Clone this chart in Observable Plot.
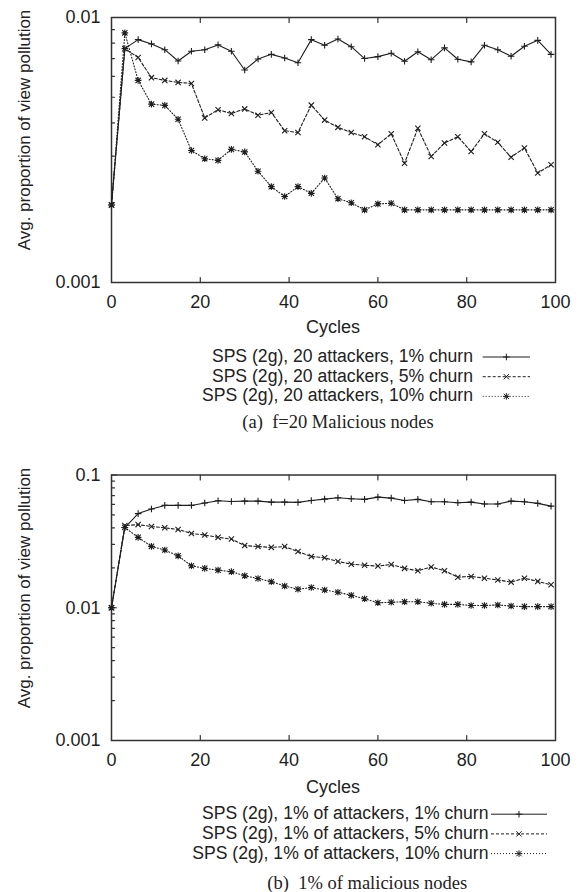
<!DOCTYPE html>
<html><head><meta charset="utf-8">
<script src="https://cdn.jsdelivr.net/npm/d3@7"></script>
<script src="https://cdn.jsdelivr.net/npm/@observablehq/plot@0.6"></script>
<style>
body{margin:0;background:#fff;}
#root{position:relative;width:588px;height:892px;overflow:hidden;font-family:"Liberation Sans",Arial,sans-serif;color:#222;}
.abs{position:absolute;white-space:nowrap;line-height:0.9;}
#root svg{position:absolute;left:0;}
</style></head><body><div id="root"></div>
<script>
// ---------- data ----------
const cycles = [0,3,6,9,12,15,18,21,24,27,30,33,36,39,42,45,48,51,54,57,60,63,66,69,72,75,78,81,84,87,90,93,96,99];
const xTicks = [0,20,40,60,80,100];

// (a) f=20 malicious nodes
const aLabels = ["SPS (2g), 20 attackers, 1% churn","SPS (2g), 20 attackers, 5% churn","SPS (2g), 20 attackers, 10% churn"];
const aChurn1 = [0.00196,0.00763,0.00825,0.00795,0.00756,0.00685,0.00746,0.00756,0.00788,0.00746,0.00634,0.00697,0.00726,0.00703,0.00675,0.00825,0.00786,0.0083,0.00776,0.0070,0.00712,0.00733,0.00684,0.00743,0.00693,0.00768,0.00696,0.0068,0.00786,0.00756,0.00714,0.00779,0.0082,0.00726];
const aChurn5 = [0.00196,0.00763,0.00706,0.00593,0.00579,0.00569,0.00564,0.00418,0.00449,0.00434,0.00452,0.00428,0.00438,0.00374,0.00368,0.00467,0.0041,0.00385,0.00368,0.00355,0.00331,0.00364,0.00282,0.00382,0.00299,0.00336,0.00355,0.00312,0.00364,0.00338,0.00297,0.00322,0.00259,0.00278];
const aChurn10 = [0.00196,0.00875,0.00579,0.00471,0.00466,0.00413,0.00315,0.00293,0.00289,0.00318,0.00311,0.00263,0.0023,0.00211,0.0023,0.00217,0.00248,0.00207,0.0020,0.00188,0.00198,0.00199,0.00188,0.00188,0.00188,0.00188,0.00188,0.00188,0.00188,0.00188,0.00188,0.00188,0.00188,0.00188];
const aYTicks = [0.001,0.01];
const aCaption = "(a)\u2002f=20 Malicious nodes";

// (b) 1% of malicious nodes
const bLabels = ["SPS (2g), 1% of attackers, 1% churn","SPS (2g), 1% of attackers, 5% churn","SPS (2g), 1% of attackers, 10% churn"];
const bChurn1 = [0.01,0.0402,0.0512,0.0555,0.059,0.059,0.059,0.0615,0.064,0.0632,0.0636,0.0636,0.0625,0.0625,0.0622,0.0643,0.0658,0.0674,0.0662,0.0655,0.0681,0.067,0.0643,0.0655,0.0629,0.0629,0.0618,0.0625,0.0604,0.0604,0.0636,0.0629,0.0611,0.0583];
const bChurn5 = [0.01,0.0416,0.0423,0.0409,0.040,0.0389,0.0363,0.0353,0.0339,0.0329,0.0294,0.0289,0.0285,0.0289,0.0265,0.0243,0.0238,0.0223,0.0213,0.0209,0.0206,0.0212,0.0198,0.019,0.0203,0.019,0.017,0.0172,0.0167,0.0162,0.0156,0.0167,0.0158,0.0149];
const bChurn10 = [0.01,0.0402,0.0339,0.029,0.0272,0.0246,0.0207,0.0198,0.0192,0.0187,0.0174,0.0166,0.0157,0.0146,0.0138,0.0142,0.0136,0.0131,0.0124,0.0117,0.0109,0.011,0.0111,0.0111,0.0108,0.0106,0.0106,0.0104,0.0104,0.0105,0.0103,0.0102,0.0102,0.0102];
const bYTicks = [0.001,0.01,0.1];
const bCaption = "(b)\u20021% of malicious nodes";

const yTitle = "Avg. proportion of view pollution";
const xTitle = "Cycles";

// ---------- styles ----------
const INK = "#1e1e1e";
const S = 3.3;
const symPlus = {draw(c){c.moveTo(-S,0);c.lineTo(S,0);c.moveTo(0,-S);c.lineTo(0,S);}};
const T = S*0.8;
const symTimes = {draw(c){c.moveTo(-T,-T);c.lineTo(T,T);c.moveTo(-T,T);c.lineTo(T,-T);}};
const symStar = {draw(c){symPlus.draw(c);symTimes.draw(c);}};
const seriesStyle = [
  {symbol: symPlus, dash: null},
  {symbol: symTimes, dash: "3,2"},
  {symbol: symStar, dash: "1,2"}
];
const tickShape = {draw(ctx, l){ctx.moveTo(0,0);ctx.lineTo(0,-l);}};

const root = document.getElementById("root");

function addText(txt, x, y, anchor, opts = {}) {
  const d = document.createElement("div");
  d.className = "abs";
  d.textContent = txt;
  d.style.left = x + "px";
  d.style.top = y + "px";
  d.style.fontSize = (opts.size || 18) + "px";
  if (opts.family) d.style.fontFamily = opts.family;
  const tx = anchor === "middle" ? "-50%" : anchor === "end" ? "-100%" : "0";
  d.style.transform = opts.rotate ? `translate(-50%,-50%) rotate(${opts.rotate}deg)` : `translate(${tx},-50%)`;
  root.appendChild(d);
}

function chart({top, height, marginTop, marginBottom, yDomain, yTicks, series}) {
  const rows = [];
  series.forEach((vals, s) => vals.forEach((v, i) => rows.push({s, x: cycles[i], y: v})));
  const minor = [];
  for (let e = Math.log10(yDomain[0]); e < Math.log10(yDomain[1]) - 1e-9; e++) {
    for (let k = 2; k <= 9; k++) minor.push(Math.pow(10, e) * k);
  }
  const marks = [
    Plot.frame({stroke: "#333", strokeWidth: 1.5}),
    Plot.axisX({ticks: xTicks, tickSize: 0, tickPadding: 12.5, tickFormat: d => String(d), label: null, fontSize: 18, fill: INK}),
    Plot.axisY({ticks: yTicks, tickSize: 0, tickPadding: 11, tickFormat: d => String(d), label: null, fontSize: 18, fill: INK}),
    Plot.vector(xTicks.slice(1, -1), {x: d => d, y: yDomain[0], length: 5, rotate: 0, anchor: "start", shape: tickShape, stroke: "#333", strokeWidth: 1.2}),
    Plot.vector(xTicks.slice(1, -1), {x: d => d, y: yDomain[1], length: 5, rotate: 180, anchor: "start", shape: tickShape, stroke: "#333", strokeWidth: 1.2}),
    Plot.vector(yTicks, {x: 0, y: d => d, length: 5, rotate: 90, anchor: "start", shape: tickShape, stroke: "#333", strokeWidth: 1.2}),
    Plot.vector(minor, {x: 0, y: d => d, length: 3, rotate: 90, anchor: "start", shape: tickShape, stroke: "#333", strokeWidth: 1.2})
  ];
  series.forEach((vals, s) => {
    const data = rows.filter(r => r.s === s);
    const st = seriesStyle[s];
    marks.push(Plot.line(data, {x: "x", y: "y", stroke: INK, strokeWidth: 1.1, strokeDasharray: st.dash}));
    marks.push(Plot.dot(data, {x: "x", y: "y", symbol: st.symbol, r: 3, stroke: INK, strokeWidth: 1.1, fill: "none"}));
  });
  const svg = Plot.plot({
    width: 588, height, marginTop, marginBottom, marginLeft: 111, marginRight: 33,
    style: {fontFamily: '"Liberation Sans", Arial, sans-serif', fontSize: "18px", color: INK, background: "transparent"},
    x: {domain: [0, 100]},
    y: {type: "log", domain: yDomain},
    marks
  });
  svg.style.top = top + "px";
  root.appendChild(svg);
}

function legend(svgSel, labels, rowsY, textRight, lineX1, lineX2) {
  labels.forEach((lab, i) => {
    addText(lab, textRight, rowsY[i], "end", {size: 17.6});
    const st = seriesStyle[i];
    svgSel.append("line").attr("x1", lineX1).attr("x2", lineX2).attr("y1", rowsY[i]).attr("y2", rowsY[i])
      .attr("stroke", INK).attr("stroke-width", 1).attr("stroke-dasharray", st.dash);
    svgSel.append("path").attr("d", d3.symbol().type(st.symbol)())
      .attr("transform", `translate(${(lineX1 + lineX2) / 2},${rowsY[i]})`)
      .attr("stroke", INK).attr("stroke-width", 1).attr("fill", "none");
  });
}

// top chart (a)
chart({top: 0, height: 312, marginTop: 17, marginBottom: 30, yDomain: [0.001, 0.01], yTicks: aYTicks, series: [aChurn1, aChurn5, aChurn10]});
// bottom chart (b)
chart({top: 460, height: 310, marginTop: 14.5, marginBottom: 30, yDomain: [0.001, 0.1], yTicks: bYTicks, series: [bChurn1, bChurn5, bChurn10]});

const overlay = d3.select(root).append("svg").attr("width", 588).attr("height", 892).style("top", "0px").style("pointer-events", "none");

addText(yTitle, 25, 130, "middle", {size: 17, rotate: -90});
addText(yTitle, 25, 588, "middle", {size: 17, rotate: -90});
addText(xTitle, 333, 326.7, "middle", {size: 18});
addText(xTitle, 333, 786.7, "middle", {size: 18});

legend(overlay, aLabels, [357, 376.7, 396.4], 473, 482.7, 530);
legend(overlay, bLabels, [814.2, 833.9, 853.6], 488.5, 491, 547);

addText(aCaption, 338, 421.5, "middle", {size: 18.5, family: '"Liberation Serif", "Times New Roman", serif'});
addText(bCaption, 367.3, 882.5, "middle", {size: 18.5, family: '"Liberation Serif", "Times New Roman", serif'});
</script>
</body></html>
